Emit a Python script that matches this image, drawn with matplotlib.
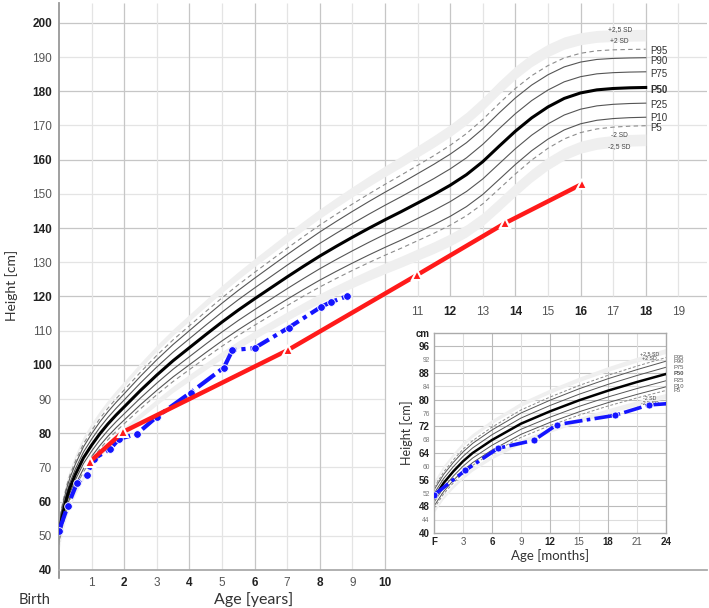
import numpy as np
import matplotlib
matplotlib.use("Agg")
from matplotlib import pyplot as plt

plt.rcParams['font.family'] = ['Liberation Sans', 'DejaVu Sans']
LABEL_FONT = ['Lato', 'DejaVu Sans']

# reference curve (median and SD in cm)
ref_age = [0, 0.083, 0.167, 0.25, 0.333, 0.5, 0.75, 1, 1.25, 1.5, 1.75,
           2, 2.5, 3, 3.5, 4, 4.5, 5, 5.5, 6, 6.5, 7, 7.5, 8, 8.5, 9, 9.5, 10,
           10.5, 11, 11.5, 12, 12.5, 13, 13.5, 14, 14.5, 15, 15.5, 16, 16.5, 17, 17.5, 18]
ref_p50 = [50.5, 55, 58.5, 61.5, 64, 67.9, 72.8, 76.5, 79.8, 82.7, 85.3,
           87.7, 92.5, 97, 101.2, 105, 108.8, 112.5, 116, 119.3, 122.5, 125.7, 128.8, 131.8,
           134.6, 137.3, 139.9, 142.4, 144.8, 147.3, 149.8, 152.5, 155.6, 159.4, 163.9,
           168.3, 172.2, 175.4, 177.9, 179.5, 180.4, 180.8, 181.0, 181.1]
ref_sd = [1.9, 2.0, 2.1, 2.2, 2.25, 2.35, 2.5, 2.6, 2.7, 2.8, 2.9,
          3.0, 3.25, 3.5, 3.7, 3.9, 4.1, 4.3, 4.5, 4.7, 4.9, 5.1, 5.3, 5.5,
          5.7, 5.9, 6.1, 6.3, 6.5, 6.7, 6.9, 7.1, 7.3, 7.5, 7.6,
          7.6, 7.5, 7.35, 7.2, 7.05, 6.95, 6.87, 6.82, 6.8]

pct_labels = ['P95', 'P90', 'P75', 'P50', 'P25', 'P10', 'P5']
pct_z = [1.645, 1.28, 0.674, 0, -0.674, -1.28, -1.645]
pct_label_y = [191.9, 188.9, 185.0, 180.5, 176.0, 172.2, 169.2]

# patient measurements
child_age = [0, 0.27, 0.55, 0.86, 1.06, 1.56, 1.85, 2.38, 3.0, 4.04, 5.06, 5.32, 6.0,
             7.05, 8.05, 8.33, 8.85]
child_height = [51.4, 58.8, 65.4, 67.8, 72.5, 75.3, 78.4, 79.7, 84.8, 91.9, 99.2, 104.3,
                104.9, 110.9, 117.0, 118.3, 120.1]

# second series (red triangles)
red_age = [0.95, 1.97, 7.02, 10.99, 13.68, 16.03]
red_height = [71.7, 80.4, 104.3, 126.3, 141.4, 152.8]

age = np.array(ref_age)
p50 = np.array(ref_p50)
sd = np.array(ref_sd)

BAND = '#efefef'

fig = plt.figure(figsize=(7.09, 6.08), dpi=100)

# ---------------- main chart ----------------
ax = fig.add_axes([59 / 709, 38 / 608, 648 / 709, 567 / 608])
xmax, ymax = 19.88, 205.8
ax.set_xlim(0, xmax)
ax.set_ylim(40, ymax)

for h in range(50, 201, 10):
    c = '#c6c6c6' if h % 20 == 0 else '#e4e4e4'
    ax.hlines(h, 0, 10 if h < 120 else xmax, color=c, lw=0.9, zorder=0)
for a in range(1, 20):
    c = '#c6c6c6' if a % 2 == 0 else '#e4e4e4'
    ax.vlines(a, 40 if a <= 10 else 120, ymax, color=c, lw=0.9, zorder=0)

# grey bands +/-2 .. 2.5 SD
ax.fill_between(age, p50 + 2 * sd, p50 + 2.5 * sd, color=BAND, lw=0, zorder=1)
ax.fill_between(age, p50 - 2.5 * sd, p50 - 2 * sd, color=BAND, lw=0, zorder=1)
for z in pct_z:
    if z == 0:
        ax.plot(age, p50, color='black', lw=2.2, zorder=3)
    elif abs(z) > 1.5:
        ax.plot(age, p50 + z * sd, color='#8c8c8c', lw=0.8, ls=(0, (4, 3)), zorder=2)
    else:
        ax.plot(age, p50 + z * sd, color='#555555', lw=0.8, zorder=2)

for lab, y in zip(pct_labels, pct_label_y):
    ax.text(18.15, y, lab, fontsize=7, va='center', ha='left',
            color='#333333', fontweight='bold' if lab == 'P50' else 'normal')
sd17 = np.interp(17.2, age, sd)
m17 = np.interp(17.2, age, p50)
for lab, z in [('+2,5 SD', 2.5), ('+2 SD', 2), ('-2 SD', -2), ('-2,5 SD', -2.5)]:
    ax.text(17.2, m17 + z * sd17, lab, fontsize=4.8, ha='center', va='center', color='#444444')

ax.plot(child_age, child_height, color='#1414ff', lw=3, ls=(0, (5, 1.2, 1, 1.2)),
        marker='o', ms=5.5, mfc='#1414ff', mec='white', mew=0.6, zorder=5)
ax.plot(red_age, red_height, color='#ff1a1a', lw=3.2, marker='^', ms=7.5,
        mfc='#ff1a1a', mec='white', mew=1.5, zorder=6)

ax.set_yticks(range(40, 201, 10))
ax.set_yticklabels([str(v) for v in range(40, 201, 10)])
for lbl, v in zip(ax.get_yticklabels(), range(40, 201, 10)):
    lbl.set_fontweight('bold' if v % 20 == 0 else 'normal')
    lbl.set_color('#222222' if v % 20 == 0 else '#555555')
    lbl.set_fontsize(8.5)
ax.set_xticks(range(1, 11))
ax.set_xticklabels([str(v) for v in range(1, 11)])
for lbl, v in zip(ax.get_xticklabels(), range(1, 11)):
    lbl.set_fontweight('bold' if v % 2 == 0 else 'normal')
    lbl.set_color('#222222' if v % 2 == 0 else '#555555')
    lbl.set_fontsize(8.5)
ax.tick_params(axis='y', length=0, pad=5)
ax.tick_params(axis='x', length=0, pad=5)
for a in range(11, 20):
    ax.text(a, 115.4, str(a), ha='center', va='center', fontsize=8.5,
            fontweight='bold' if a % 2 == 0 else 'normal',
            color='#222222' if a % 2 == 0 else '#555555')
ax.plot([0, 0], [40, 37.6], color='#888888', lw=1.2, clip_on=False)

for s in ['top', 'right']:
    ax.spines[s].set_visible(False)
ax.spines['left'].set_color('#999999')
ax.spines['left'].set_linewidth(1.3)
ax.spines['bottom'].set_color('#aaaaaa')
ax.spines['bottom'].set_linewidth(1.3)

fig.text(12 / 709, 1 - 285 / 608, 'Height [cm]', rotation=90, ha='center', va='center',
         fontsize=10, family=LABEL_FONT, color='#333333')
fig.text(19 / 709, 1 - 600 / 608, 'Birth', ha='left', va='center', fontsize=10.5,
         family=LABEL_FONT, color='#333333')
fig.text(254 / 709, 1 - 600 / 608, 'Age [years]', ha='center', va='center', fontsize=11.5,
         family=LABEL_FONT, color='#333333')

# ---------------- inset: first 24 months ----------------
ins = fig.add_axes([434 / 709, 75 / 608, 232 / 709, 200 / 608])
ins.set_xlim(0, 24)
ins.set_ylim(40, 100)
for h in range(44, 100, 4):
    ins.axhline(h, color='#bbbbbb' if h % 8 == 0 else '#dddddd', lw=0.8, zorder=0)
for m in range(3, 24, 3):
    ins.axvline(m, color='#bbbbbb' if m % 6 == 0 else '#dddddd', lw=0.8, zorder=0)

months = age * 12
ins.fill_between(months, p50 + 2 * sd, p50 + 2.5 * sd, color=BAND, lw=0, zorder=1)
ins.fill_between(months, p50 - 2.5 * sd, p50 - 2 * sd, color=BAND, lw=0, zorder=1)
for z in pct_z:
    if z == 0:
        ins.plot(months, p50, color='black', lw=1.8, zorder=3)
    elif abs(z) > 1.5:
        ins.plot(months, p50 + z * sd, color='#8c8c8c', lw=0.7, ls=(0, (3, 2)), zorder=2)
    else:
        ins.plot(months, p50 + z * sd, color='#555555', lw=0.7, zorder=2)

m24 = np.interp(2, age, p50)
s24 = np.interp(2, age, sd)
for lab, z in zip(pct_labels, pct_z):
    ins.text(24.8, m24 + z * s24, lab, fontsize=4.2, va='center', ha='left', color='#555555',
             fontweight='bold' if lab == 'P50' else 'normal', clip_on=False)
m22 = np.interp(22.3 / 12, age, p50)
s22 = np.interp(22.3 / 12, age, sd)
for lab, z in [('+2,5 SD', 2.5), ('+2 SD', 2), ('-2 SD', -2), ('-2,5 SD', -2.5)]:
    ins.text(22.3, m22 + z * s22, lab, fontsize=3.8, ha='center', va='center', color='#444444')

ins.plot(np.array(child_age) * 12, child_height, color='#1414ff', lw=2.6,
         ls=(0, (5, 1.2, 1, 1.2)), marker='o', ms=5, mfc='#1414ff', mec='white', mew=0.5,
         zorder=5)

yt = list(range(40, 97, 4)) + [100]
ins.set_yticks(yt)
ins.set_yticklabels([str(v) for v in yt[:-1]] + ['cm'])
for lbl, v in zip(ins.get_yticklabels(), yt):
    big = v % 8 == 0 or v == 100
    lbl.set_fontweight('bold' if big else 'normal')
    lbl.set_fontsize(7 if big else 4.8)
    lbl.set_color('#222222' if big else '#777777')
xt = list(range(0, 25, 3))
ins.set_xticks(xt)
ins.set_xticklabels(['F'] + [str(v) for v in xt[1:]])
for lbl, v in zip(ins.get_xticklabels(), xt):
    lbl.set_fontweight('bold' if v % 6 == 0 else 'normal')
    lbl.set_color('#222222' if v % 6 == 0 else '#555555')
    lbl.set_fontsize(7)
ins.tick_params(length=0, pad=3)
for s in ins.spines.values():
    s.set_color('#aaaaaa')
    s.set_linewidth(1.0)
ins.set_xlabel('Age [months]', fontsize=9.5, family=LABEL_FONT, color='#333333', labelpad=1)
ins.set_ylabel('Height [cm]', fontsize=9, family=LABEL_FONT, color='#333333', labelpad=2)

fig.savefig('out.png', dpi=100)
